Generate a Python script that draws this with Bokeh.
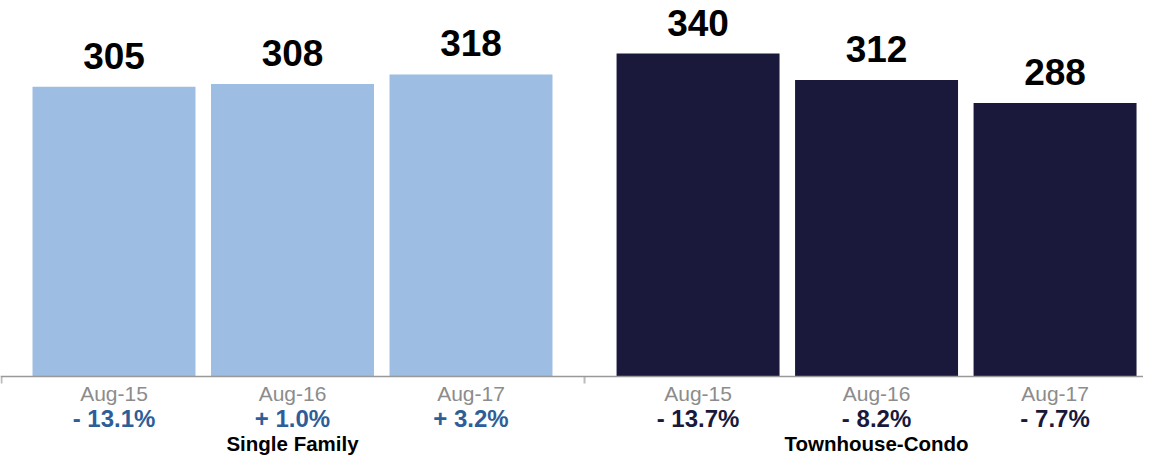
from bokeh.plotting import figure
from bokeh.models import ColumnDataSource, Range1d, Span
from bokeh.core.properties import value
from bokeh.embed import file_html
from bokeh.resources import INLINE

# ---- data ----
groups = ["Single Family", "Townhouse-Condo"]
months = ["Aug-15", "Aug-16", "Aug-17"]
single_family = [305, 308, 318]
townhouse_condo = [340, 312, 288]
sf_change = ["- 13.1%", "+ 1.0%", "+ 3.2%"]
tc_change = ["- 13.7%", "- 8.2%", "- 7.7%"]

# ---- style / layout ----
W, H = 1143, 457
BASE_PX = 376            # baseline position (px from top)
PX_PER_UNIT = 0.95       # vertical px per data unit
X_PX_PER_UNIT = 178.5
GROUP_GAP = 0.272
BAR_W = 0.913
LIGHT = "#9DBDE3"
DARK = "#1A193C"
PCT_LIGHT = "#2E5E99"
PCT_DARK = "#1A193C"
FONT = value("Liberation Sans")

xs, tops, labels, months_all, pcts, fills, pct_cols = [], [], [], [], [], [], []
for gi, (vals, chg) in enumerate([(single_family, sf_change), (townhouse_condo, tc_change)]):
    for i, v in enumerate(vals):
        xs.append(gi * (3 + GROUP_GAP) + i)
        tops.append(v)
        labels.append(str(v))
        months_all.append(months[i])
        pcts.append(chg[i])
        fills.append(LIGHT if gi == 0 else DARK)
        pct_cols.append(PCT_LIGHT if gi == 0 else PCT_DARK)

src = ColumnDataSource(dict(x=xs, top=tops, label=labels, month=months_all,
                            pct=pcts, fill=fills, pct_col=pct_cols,
                            zero=[0] * len(xs)))

x_start = -113.5 / X_PX_PER_UNIT
y_top = BASE_PX / PX_PER_UNIT
y_bot = -(H - BASE_PX) / PX_PER_UNIT

p = figure(width=W, height=H, output_backend="svg", toolbar_location=None,
           x_range=Range1d(x_start, x_start + W / X_PX_PER_UNIT),
           y_range=Range1d(y_bot, y_top),
           x_axis_type=None, y_axis_type=None, min_border=0)
p.grid.visible = False
p.outline_line_color = None
p.background_fill_color = "white"

p.vbar(x="x", top="top", bottom=0, width=BAR_W, fill_color="fill",
       line_color=None, source=src)

# axis line and boundary ticks
p.add_layout(Span(location=0, dimension="width", line_color="#999999", line_width=1.5))
mid = (xs[2] + xs[3]) / 2
tick_len = 7 / PX_PER_UNIT
left_edge = x_start + 1 / X_PX_PER_UNIT
p.segment(x0=[left_edge, mid], x1=[left_edge, mid],
          y0=[0, 0], y1=[-tick_len, -tick_len], line_color="#BBBBBB", line_width=2)

# value labels
p.text(x="x", y="top", text="label", source=src, text_align="center",
       text_baseline="middle", y_offset=-31, text_font=FONT,
       text_font_style="bold", text_font_size="37px", text_color="black")

# month labels
p.text(x="x", y="zero", text="month", source=src, text_align="center",
       text_baseline="middle", y_offset=17, text_font=FONT,
       text_font_size="21px", text_color="#8C8C8C")

# percentage change labels
p.text(x="x", y="zero", text="pct", source=src, text_align="center",
       text_baseline="middle", y_offset=42, text_font=FONT,
       text_font_style="bold", text_font_size="24px", text_color="pct_col")

# group labels under middle bar of each group
p.text(x=[xs[1], xs[4]], y=[0, 0], text=groups, text_align="center",
       text_baseline="middle", y_offset=67, text_font=FONT,
       text_font_style="bold", text_font_size="20.5px", text_color="black")

open("out.html", "w").write(file_html(p, INLINE))
